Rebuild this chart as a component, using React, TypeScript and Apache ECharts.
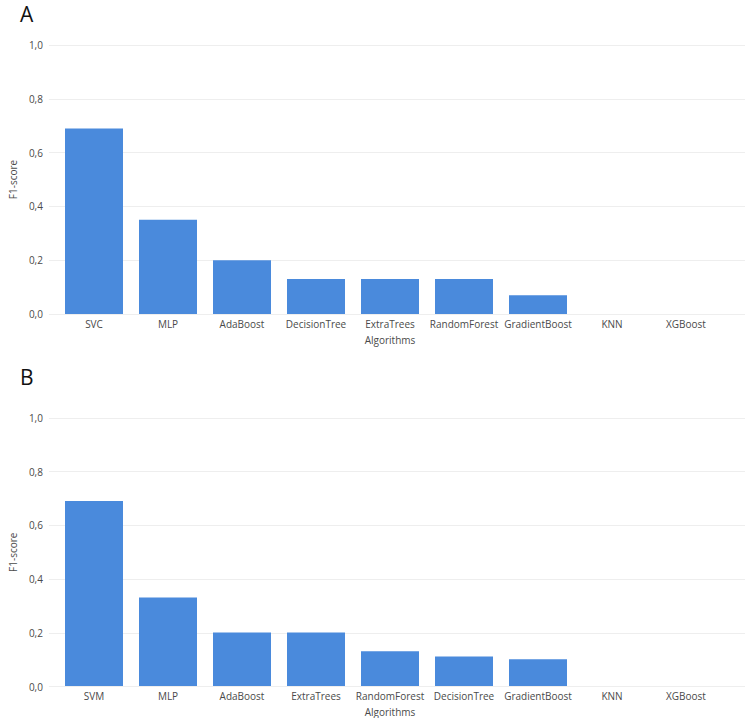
import React, { useEffect, useRef } from "react";
import * as echarts from "echarts";

const categoriesA = ["SVC", "MLP", "AdaBoost", "DecisionTree", "ExtraTrees", "RandomForest", "GradientBoost", "KNN", "XGBoost"];
const valuesA = [0.69, 0.35, 0.2, 0.13, 0.13, 0.13, 0.07, 0, 0];
const categoriesB = ["SVM", "MLP", "AdaBoost", "ExtraTrees", "RandomForest", "DecisionTree", "GradientBoost", "KNN", "XGBoost"];
const valuesB = [0.69, 0.33, 0.2, 0.2, 0.13, 0.11, 0.1, 0, 0];
const panelLabels = ["A", "B"];
const yTicks = [0, 0.2, 0.4, 0.6, 0.8, 1.0];

const FONT = "'Open Sans', 'Noto Sans', sans-serif";
const BAR = "#4A8ADC";
const GRIDC = "#EEEEEE";
const TXT = "#4a4a4a";

export default function App() {
  const ref = useRef<HTMLDivElement>(null);
  useEffect(() => {
    document.body.style.margin = "0";
    const chart = echarts.init(ref.current!, null, { renderer: "svg" });
    const panels = [
      { cats: categoriesA, vals: valuesA, top: 45, height: 269 },
      { cats: categoriesB, vals: valuesB, top: 418, height: 268.5 },
    ];
    const grid: any[] = [];
    const xAxis: any[] = [];
    const yAxis: any[] = [];
    const series: any[] = [];
    panels.forEach((p, i) => {
      grid.push({ left: 35, right: 2, top: p.top, height: p.height });
      grid.push({ left: 57, width: 666, top: p.top, height: p.height });
      const bg = i * 2;
      const bar = i * 2 + 1;
      xAxis.push({
        gridIndex: bg, type: "value", show: false, min: 0, max: 1,
      });
      yAxis.push({
        gridIndex: bg, type: "value", min: 0, max: yTicks[yTicks.length - 1], interval: 0.2,
        name: "F1-score", nameLocation: "middle", nameGap: 22,
        nameTextStyle: { fontFamily: FONT, fontSize: 10, color: TXT },
        axisLine: { show: false }, axisTick: { show: false },
        axisLabel: {
          fontFamily: FONT, fontSize: 10, color: TXT, margin: 6,
          formatter: (v: number) => v.toFixed(1).replace(".", ","),
        },
        splitLine: { show: true, lineStyle: { color: GRIDC, width: 1 } },
      });
      xAxis.push({
        gridIndex: bar, type: "category", data: p.cats,
        name: "Algorithms", nameLocation: "middle", nameGap: 21,
        nameTextStyle: { fontFamily: FONT, fontSize: 10, color: TXT },
        axisLine: { show: false }, axisTick: { show: false },
        axisLabel: { fontFamily: FONT, fontSize: 10, color: TXT, margin: 5, interval: 0 },
      });
      yAxis.push({
        gridIndex: bar, type: "value", min: 0, max: 1, show: false,
      });
      series.push({
        type: "bar", xAxisIndex: bar, yAxisIndex: bar,
        data: p.vals, barWidth: 58,
        itemStyle: { color: BAR },
      });
    });
    chart.setOption({
      animation: false,
      backgroundColor: "#ffffff",
      grid, xAxis, yAxis, series,
      graphic: [
        { type: "text", x: 20, y: 3, style: { text: panelLabels[0], fontSize: 21, fontFamily: FONT, fill: "#111", textVerticalAlign: "top", verticalAlign: "top" } },
        { type: "text", x: 20, y: 366, style: { text: panelLabels[1], fontSize: 21, fontFamily: FONT, fill: "#111", textVerticalAlign: "top", verticalAlign: "top" } },
      ],
    });
    return () => chart.dispose();
  }, []);
  return <div ref={ref} style={{ position: "absolute", left: 0, top: 0, width: 747, height: 718 }} />;
}
